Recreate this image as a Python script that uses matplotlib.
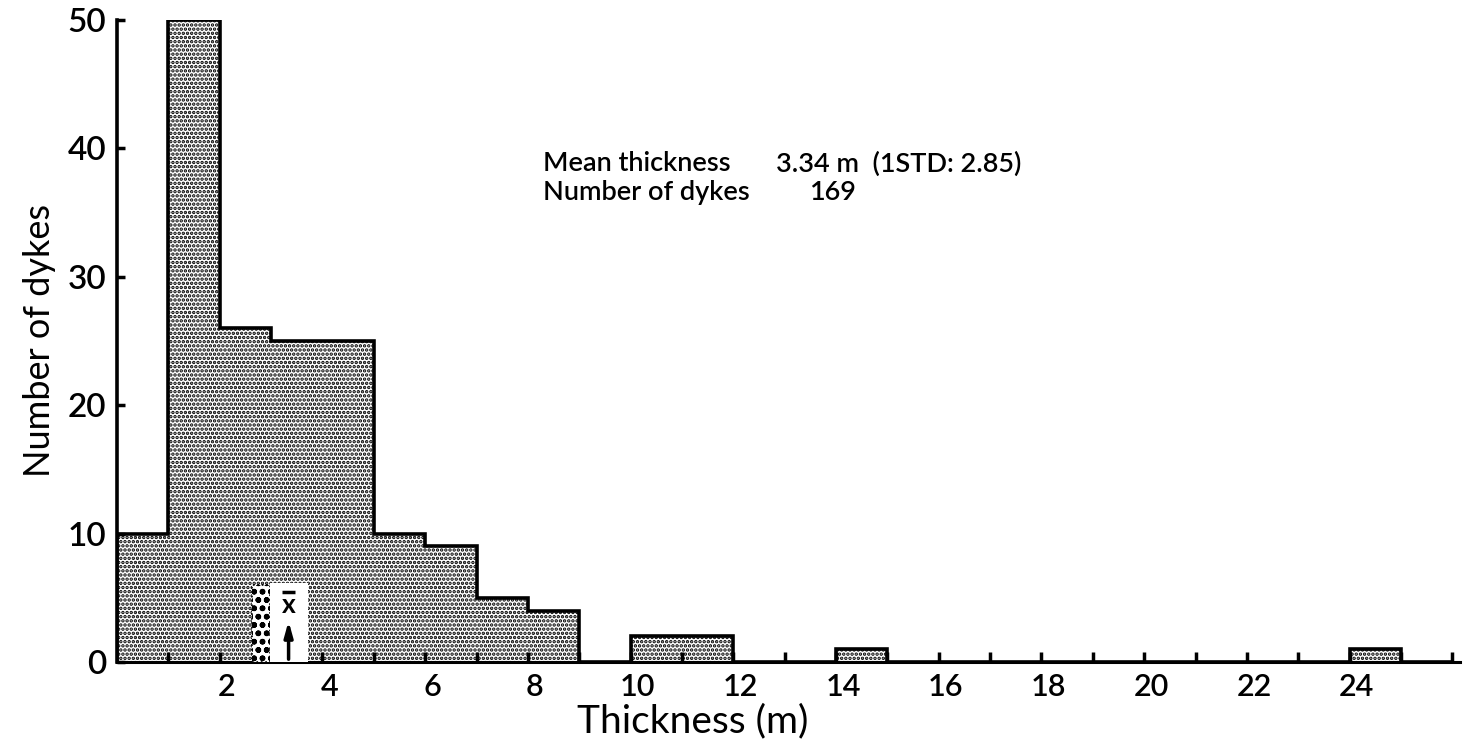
import matplotlib
matplotlib.use("Agg")
import matplotlib.pyplot as plt
import matplotlib.transforms as mtransforms
from matplotlib.patches import Rectangle
import numpy as np

# ---- data ----
bin_edges = list(range(0, 27))
counts = [10, 50, 26, 25, 25, 10, 9, 5, 4, 0, 2, 2, 0, 0, 1, 0, 0, 0, 0, 0, 0, 0, 0, 0, 1, 0]
x_tick_labels = [2, 4, 6, 8, 10, 12, 14, 16, 18, 20, 22, 24]
y_ticks = [0, 10, 20, 30, 40, 50]
mean_thickness = 3.34
std_thickness = 2.85
n_dykes = 169

plt.rcParams['font.family'] = ['Lato', 'DejaVu Sans']
plt.rcParams['hatch.linewidth'] = 1.7

fig = plt.figure(figsize=(14.63, 7.55), dpi=100)
ax = fig.add_axes([0.080, 0.1232, 0.918, 0.8503])

edges = np.array(bin_edges, dtype=float)
vals = np.array(counts, dtype=float)

ax.stairs(vals, edges, fill=True, facecolor='white', edgecolor='black',
          hatch='....', linewidth=0, zorder=1)
ax.stairs(vals, edges, fill=False, color='black', linewidth=2.6, zorder=2)

# mean marker
ax.add_patch(Rectangle((2.63, 0), 0.35, 6, facecolor='white', edgecolor='black',
                       hatch='oo', linewidth=1.2, linestyle=':', zorder=3))
ax.add_patch(Rectangle((2.98, 0), 0.74, 6.15, facecolor='white', edgecolor='none', zorder=3))
ax.annotate('', xy=(mean_thickness, 3.4), xytext=(mean_thickness, 0),
            arrowprops=dict(arrowstyle='-|>,head_width=0.25,head_length=0.9',
                            color='black', lw=2.5), zorder=4)
ax.text(mean_thickness, 4.4, 'x', ha='center', va='center',
        fontsize=19, fontweight='bold', zorder=5)
ax.plot([mean_thickness - 0.12, mean_thickness + 0.12], [5.45, 5.45],
        color='black', lw=2.5, solid_capstyle='butt', zorder=5)

ax.set_xlim(0, 26.15)
ax.set_ylim(0, 50)

for s in ['top', 'right']:
    ax.spines[s].set_visible(False)
ax.spines['left'].set_linewidth(2.6)
ax.spines['bottom'].set_linewidth(2.2)
ax.spines['left'].set_bounds(0, 50)

ax.set_xticks(x_tick_labels)
ax.set_xticklabels([str(v) for v in x_tick_labels])
ax.set_xticks(edges[1:], minor=True)
ax.tick_params(axis='x', which='both', direction='in', length=7, width=2.5,
               labelsize=22, pad=8)
ax.set_yticks(y_ticks)
ax.tick_params(axis='y', direction='in', length=6, width=2.5, labelsize=24, pad=8)
for lbl in ax.get_xticklabels() + ax.get_yticklabels():
    lbl.set_fontweight('semibold')

offset = mtransforms.ScaledTranslation(7 / 100, 0, fig.dpi_scale_trans)
for lbl in ax.get_xticklabels():
    lbl.set_transform(lbl.get_transform() + offset)

ax.set_xlabel('Thickness (m)', fontsize=28, labelpad=2)
ax.xaxis.set_label_coords(11.2 / 26.15, -0.065)
ax.set_ylabel('Number of dykes', fontsize=26, labelpad=8)

txt_kw = dict(fontsize=19.5, va='center', ha='left', fontweight='semibold')
ax.text(8.29, 38.8, 'Mean thickness', **txt_kw)
ax.text(12.84, 38.8, f'{mean_thickness} m  (1STD: {std_thickness})', **txt_kw)
ax.text(8.29, 36.6, 'Number of dykes', **txt_kw)
ax.text(13.48, 36.6, f'{n_dykes}', **txt_kw)

fig.savefig('out.png', dpi=100)
